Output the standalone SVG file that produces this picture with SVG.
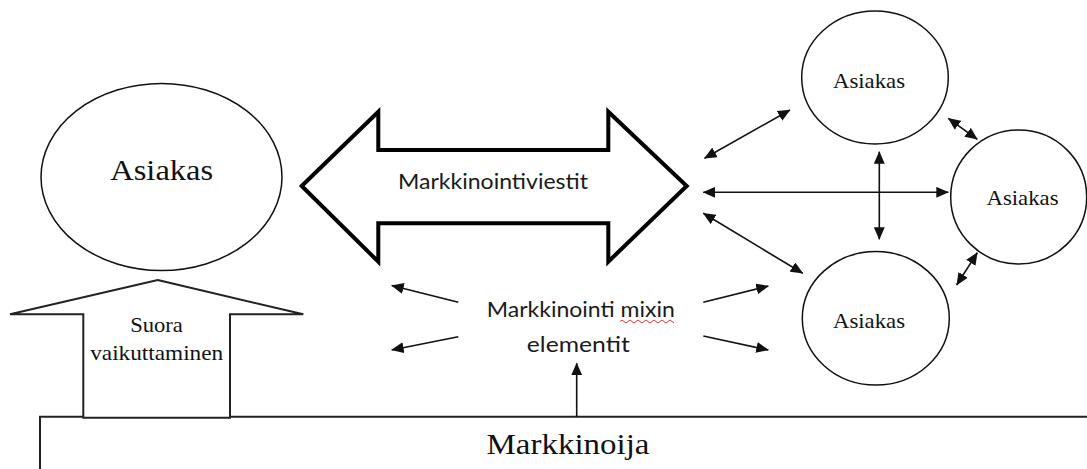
<svg xmlns="http://www.w3.org/2000/svg" width="1087" height="469" viewBox="0 0 1087 469">
<style>
.shape{fill:#fff;stroke:#111;stroke-width:1.5}
.serif{font-family:'Liberation Serif','Times New Roman',serif;fill:#111;text-anchor:middle}
.sans{font-family:Lato,'Liberation Sans',Arial,sans-serif;fill:#1a1a1a;text-anchor:middle}
.conn{stroke:#111;stroke-width:1.6;fill:none;marker-end:url(#ah)}
.dbl{marker-start:url(#ah)}
</style>
<defs>
<marker id="ah" markerUnits="userSpaceOnUse" markerWidth="13" markerHeight="11" refX="12" refY="5.5" orient="auto-start-reverse" viewBox="0 0 13 11">
<path d="M0,0 L12.5,5.5 L0,11 z" fill="#111"/>
</marker>
</defs>
<rect width="1087" height="469" fill="#fff"/>

<g id="markkinoija">
<path d="M40,470 V416.7 H1090" fill="none" stroke="#222" stroke-width="2"/>
<text class="serif" font-family="Liberation Serif, serif" x="568" y="454.3" font-size="29" textLength="163" lengthAdjust="spacingAndGlyphs">Markkinoija</text>
</g>

<g id="asiakas-left">
<ellipse class="shape" cx="161.5" cy="177" rx="120.5" ry="93.5"/>
<text class="serif" font-family="Liberation Serif, serif" x="161.7" y="180" font-size="30" textLength="103" lengthAdjust="spacingAndGlyphs">Asiakas</text>
</g>

<g id="suora-vaikuttaminen">
<polygon points="157.7,280 303.3,314.3 230,314.3 230,417.7 83.3,417.7 83.3,314.3 10,314.3" fill="#fff" stroke="#222" stroke-width="2" stroke-linejoin="miter"/>
<text class="serif" font-family="Liberation Serif, serif" x="156.5" y="331.7" font-size="21" textLength="52.7" lengthAdjust="spacingAndGlyphs">Suora</text>
<text class="serif" font-family="Liberation Serif, serif" x="156.7" y="360" font-size="21" textLength="133" lengthAdjust="spacingAndGlyphs">vaikuttaminen</text>
</g>

<g id="markkinointiviestit">
<polygon points="301.7,186 378.3,111.7 378.3,150 608.3,150 608.3,111.7 686.7,186 608.3,261.7 608.3,223.3 378.3,223.3 378.3,261.7" fill="#fff" stroke="#000" stroke-width="4" stroke-linejoin="miter"/>
<text class="sans" x="493" y="189" font-size="21" textLength="190" lengthAdjust="spacingAndGlyphs">Markkinointiviestit</text>
</g>

<g id="mix">
<text class="sans" x="580.8" y="316.7" font-size="21" textLength="188" lengthAdjust="spacingAndGlyphs">Markkinointi mixin</text>
<text class="sans" x="578.3" y="351.7" font-size="21" textLength="103" lengthAdjust="spacingAndGlyphs">elementit</text>
<path d="M620,321.5 l2,-1.5 l2,1.5 l2,1.5 l2,-1.5 l2,-1.5 l2,1.5 l2,1.5 l2,-1.5 l2,-1.5 l2,1.5 l2,1.5 l2,-1.5 l2,-1.5 l2,1.5 l2,1.5 l2,-1.5 l2,-1.5 l2,1.5 l2,1.5 l2,-1.5 l2,-1.5 l2,1.5 l2,1.5 l2,-1.5 l2,-1.5 l2,1.5 l2,1.5" fill="none" stroke="#e02020" stroke-width="0.9"/>
</g>

<g id="asiakas-top">
<ellipse class="shape" cx="875" cy="77.5" rx="73.3" ry="66.5"/>
<text class="serif" font-family="Liberation Serif, serif" x="869" y="88.3" font-size="21" textLength="72" lengthAdjust="spacingAndGlyphs">Asiakas</text>
</g>

<g id="asiakas-right">
<ellipse class="shape" cx="1018.7" cy="197" rx="68" ry="67"/>
<text class="serif" font-family="Liberation Serif, serif" x="1022.5" y="205" font-size="21" textLength="72" lengthAdjust="spacingAndGlyphs">Asiakas</text>
</g>

<g id="asiakas-bottom">
<ellipse class="shape" cx="875.8" cy="318.3" rx="73.5" ry="66.7"/>
<text class="serif" font-family="Liberation Serif, serif" x="869" y="328.3" font-size="21" textLength="72" lengthAdjust="spacingAndGlyphs">Asiakas</text>
</g>

<g id="connectors">
<line class="conn" x1="458.3" y1="302.3" x2="391.7" y2="285.5"/>
<line class="conn" x1="458.3" y1="336.7" x2="391.7" y2="350"/>
<line class="conn" x1="703.3" y1="302.3" x2="768.3" y2="286"/>
<line class="conn" x1="703.3" y1="336" x2="768.3" y2="350"/>
<line class="conn" x1="576.7" y1="416.7" x2="576.7" y2="363.3"/>
<line class="conn dbl" x1="704.5" y1="158.3" x2="790" y2="110"/>
<line class="conn dbl" x1="703.3" y1="192.3" x2="948.3" y2="192.3"/>
<line class="conn dbl" x1="879.3" y1="151.7" x2="879.3" y2="239.3"/>
<line class="conn dbl" x1="703.3" y1="213.3" x2="802.7" y2="273.3"/>
<line class="conn dbl" x1="948.3" y1="118.3" x2="977.3" y2="139.3"/>
<line class="conn dbl" x1="956.7" y1="285" x2="977.3" y2="252.7"/>
</g>
</svg>
